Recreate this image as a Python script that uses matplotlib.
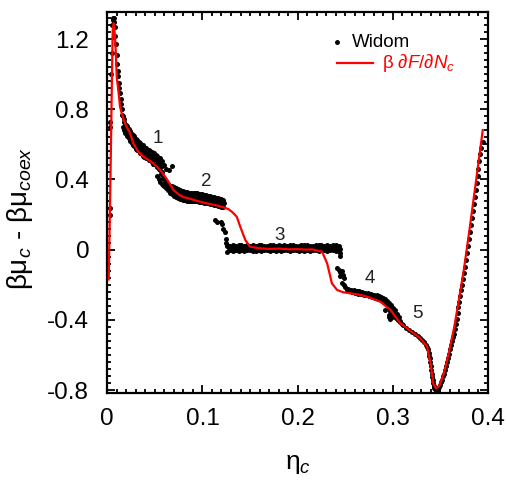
import matplotlib
matplotlib.use("Agg")
import matplotlib.pyplot as plt
from matplotlib.lines import Line2D
from matplotlib.ticker import MultipleLocator, FixedLocator

plt.rcParams['font.family'] = ['Liberation Sans', 'DejaVu Sans']
plt.rcParams['mathtext.fontset'] = 'custom'
plt.rcParams['mathtext.rm'] = 'Liberation Sans'
plt.rcParams['mathtext.it'] = 'Liberation Sans:italic'
plt.rcParams['mathtext.bf'] = 'Liberation Sans:bold'

# ---------------- data: beta dF/dN_c (red line) ----------------
deriv_x = [0.0015, 0.0028, 0.0039, 0.0049, 0.0057, 0.0068, 0.0080, 0.0090, 0.0099, 0.0116,
           0.0134, 0.0152, 0.0186, 0.0239, 0.0274, 0.0326, 0.0380, 0.0432, 0.0484, 0.0520,
           0.0555, 0.0590, 0.0640, 0.0695, 0.0750, 0.0800, 0.0870, 0.0930, 0.0976, 0.1060,
           0.1150, 0.1220, 0.1270, 0.1310, 0.1360, 0.1397, 0.1450, 0.1500, 0.1600, 0.1700,
           0.1800, 0.1900, 0.2000, 0.2100, 0.2150, 0.2257, 0.2310, 0.2360, 0.2415, 0.2480,
           0.2555, 0.2650, 0.2730, 0.2870, 0.2976, 0.3080, 0.3220, 0.3290, 0.3360, 0.3397,
           0.3425, 0.3451, 0.3485, 0.3537, 0.3590, 0.3646, 0.3700, 0.3751, 0.3805, 0.3857,
           0.3900, 0.3945]
deriv_y = [-0.17, 0.226, 0.606, 0.985, 1.25, 1.29, 1.22, 1.12, 0.985, 0.909,
           0.814, 0.777, 0.72, 0.663, 0.606, 0.558, 0.53, 0.511, 0.492, 0.473,
           0.454, 0.430, 0.39, 0.34, 0.315, 0.30, 0.290, 0.280, 0.273, 0.262,
           0.252, 0.241, 0.232, 0.216, 0.188, 0.131, 0.055, 0.017, 0.008, 0.004,
           0.006, 0.002, 0.003, 0.000, 0.002, -0.012, -0.078, -0.192, -0.23, -0.243,
           -0.249, -0.257, -0.268, -0.297, -0.344, -0.42, -0.477, -0.505, -0.553, -0.648,
           -0.762, -0.79, -0.78, -0.705, -0.585, -0.439, -0.270, -0.097, 0.110, 0.321,
           0.495, 0.681]

# ---------------- data: Widom insertion (black dots) ----------------
widom_peak_x = [0.0026, 0.0026, 0.0030, 0.0030, 0.0040, 0.0045, 0.0050, 0.0055, 0.0062, 0.0068,
                0.0074, 0.0080, 0.0086, 0.0092, 0.0098, 0.0104, 0.0110, 0.0116, 0.0122, 0.0128,
                0.0134, 0.0140, 0.0146, 0.0152, 0.0158]
widom_peak_y = [0.24, 0.20, 0.73, 0.70, 1.00, 1.12, 1.28, 1.31, 1.32, 1.32,
                1.30, 1.27, 1.22, 1.17, 1.11, 1.06, 1.02, 0.99, 0.95, 0.92,
                0.89, 0.86, 0.83, 0.80, 0.77]

widom_r1_x = [0.0165, 0.0180, 0.0195, 0.0210, 0.0225, 0.0240, 0.0255, 0.0270, 0.0285, 0.0300,
              0.0315, 0.0330, 0.0345, 0.0360, 0.0375, 0.0390, 0.0405, 0.0420, 0.0435, 0.0450,
              0.0465, 0.0480, 0.0495, 0.0510, 0.0525, 0.0540, 0.0555, 0.0570]
widom_r1_hi = [0.76, 0.745, 0.71, 0.705, 0.69, 0.675, 0.66, 0.655, 0.645, 0.63,
               0.625, 0.615, 0.605, 0.595, 0.595, 0.585, 0.58, 0.57, 0.57, 0.56,
               0.555, 0.55, 0.55, 0.54, 0.535, 0.525, 0.52, 0.505]
widom_r1_mid = [0.73, 0.71, 0.69, 0.675, 0.66, 0.645, 0.635, 0.625, 0.615, 0.605,
                0.595, 0.59, 0.58, 0.57, 0.565, 0.555, 0.55, 0.545, 0.54, 0.535,
                0.53, 0.52, 0.515, 0.51, 0.50, 0.495, 0.485, 0.475]
widom_r1_lo = [0.70, 0.685, 0.665, 0.645, 0.635, 0.62, 0.61, 0.595, 0.59, 0.575,
               0.57, 0.56, 0.55, 0.545, 0.535, 0.53, 0.52, 0.52, 0.51, 0.51,
               0.50, 0.49, 0.49, 0.48, 0.47, 0.46, 0.455, 0.445]

widom_drop1_x = [0.0525, 0.0540, 0.0555, 0.0570, 0.0585, 0.0560, 0.0585, 0.0595, 0.0620, 0.0675, 0.0645, 0.0190, 0.0175]
widom_drop1_y = [0.42, 0.40, 0.385, 0.375, 0.37, 0.43, 0.41, 0.48, 0.46, 0.475, 0.455, 0.665, 0.68]

widom_r2_x = [0.060, 0.062, 0.064, 0.066, 0.068, 0.070, 0.072, 0.074, 0.076, 0.078,
              0.080, 0.082, 0.084, 0.086, 0.088, 0.090, 0.092, 0.094, 0.096, 0.098,
              0.100, 0.102, 0.104, 0.106, 0.108, 0.110, 0.112, 0.114, 0.116, 0.118,
              0.120, 0.122]
widom_r2_hi = [0.40, 0.385, 0.375, 0.365, 0.36, 0.355, 0.35, 0.345, 0.34, 0.335,
               0.335, 0.33, 0.33, 0.325, 0.325, 0.32, 0.32, 0.32, 0.315, 0.315,
               0.315, 0.31, 0.31, 0.305, 0.305, 0.30, 0.30, 0.295, 0.295, 0.29,
               0.29, 0.285]
widom_r2_mid = [0.38, 0.365, 0.355, 0.345, 0.335, 0.33, 0.325, 0.32, 0.315, 0.31,
                0.31, 0.305, 0.305, 0.30, 0.30, 0.297, 0.297, 0.295, 0.292, 0.292,
                0.29, 0.288, 0.286, 0.284, 0.282, 0.28, 0.277, 0.275, 0.272, 0.27,
                0.267, 0.265]
widom_r2_lo = [0.365, 0.35, 0.34, 0.325, 0.315, 0.305, 0.30, 0.295, 0.29, 0.29,
               0.285, 0.285, 0.28, 0.28, 0.28, 0.275, 0.275, 0.275, 0.27, 0.27,
               0.27, 0.265, 0.265, 0.265, 0.26, 0.26, 0.255, 0.255, 0.25, 0.25,
               0.245, 0.245]

widom_drop2_x = [0.1135, 0.1150, 0.1190, 0.1210, 0.1220, 0.1235, 0.1250, 0.1250, 0.1255]
widom_drop2_y = [0.168, 0.160, 0.155, 0.145, 0.120, 0.100, 0.060, 0.040, 0.020]

widom_r3_x = [0.126, 0.129, 0.132, 0.135, 0.138, 0.141, 0.144, 0.147, 0.150, 0.153,
              0.156, 0.159, 0.162, 0.165, 0.168, 0.171, 0.174, 0.177, 0.180, 0.183,
              0.186, 0.189, 0.192, 0.195, 0.198, 0.201, 0.204, 0.207, 0.210, 0.213,
              0.216, 0.219, 0.222, 0.225, 0.228, 0.231, 0.234, 0.237, 0.240, 0.243]
widom_r3_hi = [0.028, 0.023, 0.027, 0.022, 0.025, 0.024, 0.021, 0.026, 0.023, 0.025,
               0.022, 0.024, 0.027, 0.023, 0.021, 0.025, 0.024, 0.022, 0.026, 0.023,
               0.025, 0.021, 0.024, 0.027, 0.023, 0.022, 0.025, 0.024, 0.026, 0.023,
               0.021, 0.025, 0.024, 0.027, 0.023, 0.025, 0.022, 0.026, 0.024, 0.020]
widom_r3_mid = [0.010, 0.012, 0.008, 0.011, 0.009, 0.013, 0.010, 0.008, 0.012, 0.009,
                0.011, 0.010, 0.008, 0.012, 0.010, 0.009, 0.011, 0.013, 0.009, 0.010,
                0.012, 0.008, 0.010, 0.011, 0.009, 0.012, 0.010, 0.008, 0.011, 0.010,
                0.012, 0.009, 0.010, 0.011, 0.008, 0.010, 0.012, 0.009, 0.010, 0.006]
widom_r3_lo = [-0.012, -0.004, -0.007, -0.002, -0.006, -0.003, -0.008, -0.004, -0.001, -0.006,
               -0.005, -0.002, -0.007, -0.003, -0.004, -0.008, -0.002, -0.005, -0.003, -0.006,
               -0.001, -0.004, -0.007, -0.003, -0.002, -0.006, -0.004, -0.008, -0.003, -0.005,
               -0.002, -0.004, -0.006, -0.003, -0.001, -0.005, -0.004, -0.002, -0.006, -0.010]

widom_drop3_x = [0.2435, 0.2440, 0.2445, 0.2415, 0.2430, 0.2445, 0.2460, 0.2475, 0.2485,
                 0.2450, 0.2465, 0.2470, 0.2485]
widom_drop3_y = [0.000, -0.020, -0.035, -0.105, -0.115, -0.125, -0.135, -0.145, -0.160,
                 -0.150, -0.120, -0.190, -0.200]

widom_r4_x = [0.250, 0.253, 0.256, 0.259, 0.262, 0.265, 0.268, 0.271, 0.274, 0.277,
              0.280, 0.283, 0.286, 0.288, 0.290, 0.292, 0.294, 0.296, 0.298, 0.300,
              0.302, 0.304, 0.306, 0.308]
widom_r4_hi = [-0.215, -0.222, -0.228, -0.232, -0.235, -0.238, -0.242, -0.245, -0.248, -0.252,
               -0.256, -0.260, -0.265, -0.270, -0.276, -0.283, -0.292, -0.302, -0.315, -0.33,
               -0.345, -0.365, -0.385, -0.405]
widom_r4_lo = [-0.232, -0.238, -0.243, -0.247, -0.250, -0.253, -0.257, -0.260, -0.264, -0.268,
               -0.273, -0.279, -0.286, -0.295, -0.305, -0.318, -0.332, -0.348, -0.362, -0.375,
               -0.39, -0.40, -0.41, -0.425]
widom_out4_x = [0.2955, 0.2955, 0.2970, 0.2990, 0.2920]
widom_out4_y = [-0.385, -0.370, -0.395, -0.385, -0.345]

widom_r5_x = [0.311, 0.314, 0.317, 0.320, 0.323, 0.326, 0.329, 0.331, 0.333, 0.335,
              0.336, 0.337, 0.338, 0.3385, 0.339, 0.3395, 0.340, 0.3405, 0.341, 0.3415,
              0.342, 0.3425, 0.343, 0.3435, 0.344, 0.345, 0.346, 0.347, 0.348, 0.349,
              0.350, 0.351, 0.352, 0.353, 0.354, 0.355, 0.356, 0.357, 0.358, 0.359,
              0.360, 0.361, 0.362, 0.363, 0.364, 0.365, 0.366, 0.367, 0.368, 0.369,
              0.370, 0.371, 0.372, 0.373, 0.374, 0.375, 0.376, 0.377, 0.378, 0.379,
              0.380, 0.381, 0.382, 0.383, 0.384, 0.385, 0.386, 0.387, 0.388, 0.389,
              0.390, 0.391, 0.392, 0.393, 0.3945]
widom_r5_y = [-0.432, -0.445, -0.456, -0.468, -0.48, -0.492, -0.505, -0.515, -0.527, -0.543,
              -0.552, -0.567, -0.59, -0.605, -0.62, -0.64, -0.665, -0.688, -0.71, -0.728,
              -0.745, -0.76, -0.775, -0.786, -0.795, -0.80, -0.802, -0.80, -0.795, -0.785,
              -0.77, -0.757, -0.74, -0.72, -0.71, -0.686, -0.662, -0.638, -0.615, -0.592,
              -0.568, -0.545, -0.522, -0.50, -0.478, -0.455, -0.425, -0.393, -0.36, -0.328,
              -0.296, -0.264, -0.232, -0.20, -0.168, -0.135, -0.098, -0.058, -0.018, 0.022,
              0.061, 0.10, 0.14, 0.179, 0.219, 0.258, 0.298, 0.339, 0.38, 0.421,
              0.462, 0.503, 0.544, 0.58, 0.615]

tick_x = [0, 0.1, 0.2, 0.3, 0.4]
tick_x_labels = ['0', '0.1', '0.2', '0.3', '0.4']
tick_y = [-0.8, -0.4, 0, 0.4, 0.8, 1.2]
tick_y_labels = ['-0.8', '-0.4', '0', '0.4', '0.8', '1.2']

region_labels = ['1', '2', '3', '4', '5']
region_x = [0.0536, 0.1045, 0.181, 0.276, 0.326]
region_y = [0.634, 0.387, 0.083, -0.164, -0.363]

# ---------------- figure ----------------
fig = plt.figure(figsize=(5.07, 4.82), dpi=100)
ax = fig.add_axes([0.2116, 0.1846, 0.7509, 0.7904])

dot_kw = dict(linestyle='none', marker='o', ms=3.6, color='black', mec='none', zorder=2)
ax.plot(widom_peak_x, widom_peak_y, **dot_kw)
ax.plot(widom_r1_x, widom_r1_hi, **dot_kw)
ax.plot([x + 0.00075 for x in widom_r1_x], widom_r1_mid, **dot_kw)
ax.plot(widom_r1_x, widom_r1_lo, **dot_kw)
ax.plot(widom_drop1_x, widom_drop1_y, **dot_kw)
ax.plot(widom_r2_x, widom_r2_hi, **dot_kw)
ax.plot([x + 0.001 for x in widom_r2_x], widom_r2_mid, **dot_kw)
ax.plot(widom_r2_x, widom_r2_lo, **dot_kw)
ax.plot(widom_drop2_x, widom_drop2_y, **dot_kw)
ax.plot(widom_r3_x, widom_r3_hi, **dot_kw)
ax.plot([x + 0.0015 for x in widom_r3_x], widom_r3_mid, **dot_kw)
ax.plot(widom_r3_x, widom_r3_lo, **dot_kw)
ax.plot(widom_drop3_x, widom_drop3_y, **dot_kw)
ax.plot(widom_r4_x, widom_r4_hi, **dot_kw)
ax.plot([x + 0.0015 for x in widom_r4_x], widom_r4_lo, **dot_kw)
ax.plot(widom_out4_x, widom_out4_y, **dot_kw)
ax.plot(widom_r5_x, widom_r5_y, **dot_kw)

ax.plot(deriv_x, deriv_y, color='#ff0000', lw=1.6, zorder=3)

for lab, lx, ly in zip(region_labels, region_x, region_y):
    ax.text(lx, ly, lab, fontsize=13.5, ha='center', va='center', color='#222222')

ax.set_xlim(0, 0.4)
ax.set_ylim(-0.817, 1.354)
ax.xaxis.set_major_locator(FixedLocator(tick_x))
ax.set_xticklabels(tick_x_labels)
ax.yaxis.set_major_locator(FixedLocator(tick_y))
ax.set_yticklabels(tick_y_labels)
ax.xaxis.set_minor_locator(MultipleLocator(0.01))
ax.yaxis.set_minor_locator(MultipleLocator(0.04))
ax.tick_params(which='both', direction='in', top=True, right=True, labelsize=17.5, width=1.3)
ax.tick_params(which='major', length=6)
ax.tick_params(axis='y', which='major', pad=13)
ax.tick_params(axis='x', which='major', pad=11)
ax.tick_params(which='minor', length=3)
for s in ax.spines.values():
    s.set_linewidth(1.6)

ax.set_xlabel(r'η$_c$', fontsize=19)
ax.xaxis.set_label_coords(0.501, -0.155)
ax.set_ylabel(r'βμ$_c$ - βμ$_{coex}$', fontsize=20)
ax.yaxis.set_label_coords(-0.19, 0.459)

# legend (drawn in axes fraction)
ax.add_line(Line2D([0.6026], [0.921], transform=ax.transAxes, marker='o', ms=2.5,
                   color='black', linestyle='none'))
ax.text(0.642, 0.921, 'Widom', transform=ax.transAxes, fontsize=13.5, va='center', ha='left')
ax.add_line(Line2D([0.6026, 0.699], [0.866, 0.866], transform=ax.transAxes, color='#ff0000', lw=1.6))
ax.text(0.721, 0.866, r'β ∂$F$/∂$N_c$', transform=ax.transAxes, fontsize=13.5,
        va='center', ha='left', color='#ff0000')

fig.savefig('out.png', dpi=100)
